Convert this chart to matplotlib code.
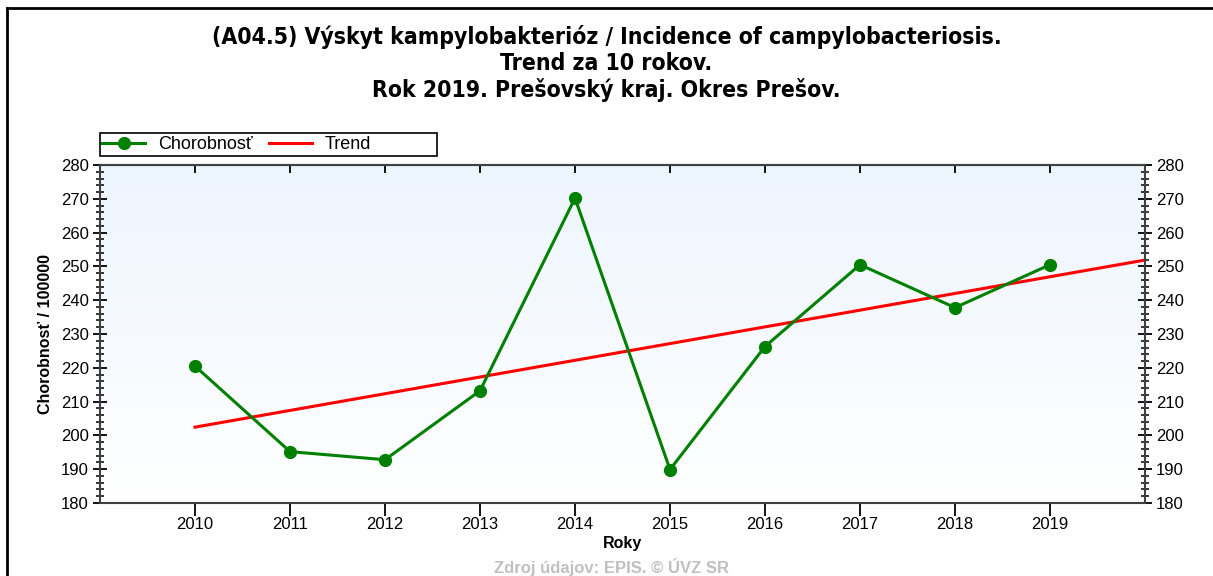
import numpy as np
import matplotlib.pyplot as plt
from matplotlib import font_manager as fm
from matplotlib.colors import LinearSegmentedColormap
from matplotlib.ticker import MultipleLocator
from matplotlib.lines import Line2D
from matplotlib.patches import Rectangle

years = [2010, 2011, 2012, 2013, 2014, 2015, 2016, 2017, 2018, 2019]
incidence = [220.5, 195.2, 192.8, 213.2, 270.2, 189.9, 226.3, 250.5, 237.8, 250.5]

title_lines = ["(A04.5) Výskyt kampylobakterióz / Incidence of campylobacteriosis.",
               "Trend za 10 rokov.",
               "Rok 2019. Prešovský kraj. Okres Prešov."]

plt.rcParams['font.family'] = ['Liberation Sans', 'DejaVu Sans']

# a condensed bold face for the title, if one is installed
narrow = None
for pat in ['LiberationSansNarrow-Bold', 'DejaVuSansCondensed-Bold']:
    for f in fm.fontManager.ttflist:
        if pat in f.fname:
            narrow = f.fname
            break
    if narrow:
        break
if narrow:
    title_font = fm.FontProperties(fname=narrow, size=16.5)
else:
    title_font = fm.FontProperties(family='Liberation Sans', weight='bold', size=16.5)

fig = plt.figure(figsize=(12.13, 5.76), dpi=100)
ax = fig.add_axes([100 / 1213, 73 / 576, 1045 / 1213, 338 / 576])

# linear trend over the 10 years, extended to the right edge
k, q = np.polyfit(years, incidence, 1)
tx = np.array([2010, 2020])

# light blue at the top fading to white
grad = np.linspace(0, 1, 256).reshape(-1, 1)
ax.imshow(grad, extent=[2009, 2020, 180, 280], aspect='auto', origin='upper',
          cmap=LinearSegmentedColormap.from_list('bg', ['#edf5fe', '#ffffff']),
          zorder=0)

ax.plot(tx, k * tx + q, color='#ff0000', lw=2.2, label='Trend', zorder=2)
ax.plot(years, incidence, color='#008000', lw=2.2, marker='o', markersize=8.5,
        label='Chorobnosť', zorder=3)

ax.set_xlim(2009, 2020)
ax.set_ylim(180, 280)
ax.set_xticks(years)
ax.set_xticklabels([str(y) for y in years])
ax.yaxis.set_major_locator(MultipleLocator(10))
ax.yaxis.set_minor_locator(MultipleLocator(2))

for s in ax.spines.values():
    s.set_color('#404040')
    s.set_linewidth(1.5)

ax.tick_params(axis='y', which='major', direction='inout', length=10, width=1.3,
               left=True, right=True, labelleft=True, labelright=True,
               labelsize=12, pad=3, colors='black')
ax.tick_params(axis='y', which='minor', direction='inout', length=6, width=1.1,
               left=True, right=True)
ax.tick_params(axis='x', which='major', direction='out', length=9, width=1.3,
               top=False, bottom=True, labelsize=12, pad=1)

top = ax.secondary_xaxis('top')
top.set_xticks(years)
top.tick_params(direction='in', length=6, width=1.3, labeltop=False)
top.spines['top'].set_color('#404040')
top.spines['top'].set_linewidth(1.5)

ax.set_xlabel('Roky', fontsize=11.5, fontweight='bold', labelpad=3)
ax.set_ylabel('Chorobnosť / 100000', fontsize=11.5, fontweight='bold', labelpad=6)

# legend without its own frame; the box is drawn separately to match width
handles, labels = ax.get_legend_handles_labels()
leg = fig.legend(handles[::-1], labels[::-1], loc='center left',
                 bbox_to_anchor=(102 / 1213, 1 - 144.5 / 576), ncol=2,
                 frameon=False, fontsize=13, borderpad=0, handlelength=2.4,
                 columnspacing=0.9, handletextpad=0.7, borderaxespad=0)
fig.add_artist(Rectangle((100 / 1213, 1 - 156 / 576), 337 / 1213, 23 / 576,
                         transform=fig.transFigure, facecolor='none',
                         edgecolor='black', lw=1.2))

for i, line in enumerate(title_lines):
    fig.text(0.5, 1 - (37 + 26.5 * i) / 576, line, ha='center', va='center',
             fontproperties=title_font)

fig.text(612 / 1213, 1 - 567 / 576, 'Zdroj údajov: EPIS. © ÚVZ SR', ha='center',
         va='center', fontsize=12, fontweight='bold', color='#c0c0c0')

# frame lines at top and left of the image
fig.add_artist(Line2D([7 / 1213, 1], [1 - 8 / 576] * 2, color='black', lw=2,
                      transform=fig.transFigure))
fig.add_artist(Line2D([7 / 1213] * 2, [0, 1 - 8 / 576], color='black', lw=2,
                      transform=fig.transFigure))

fig.savefig('out.png', dpi=100)
